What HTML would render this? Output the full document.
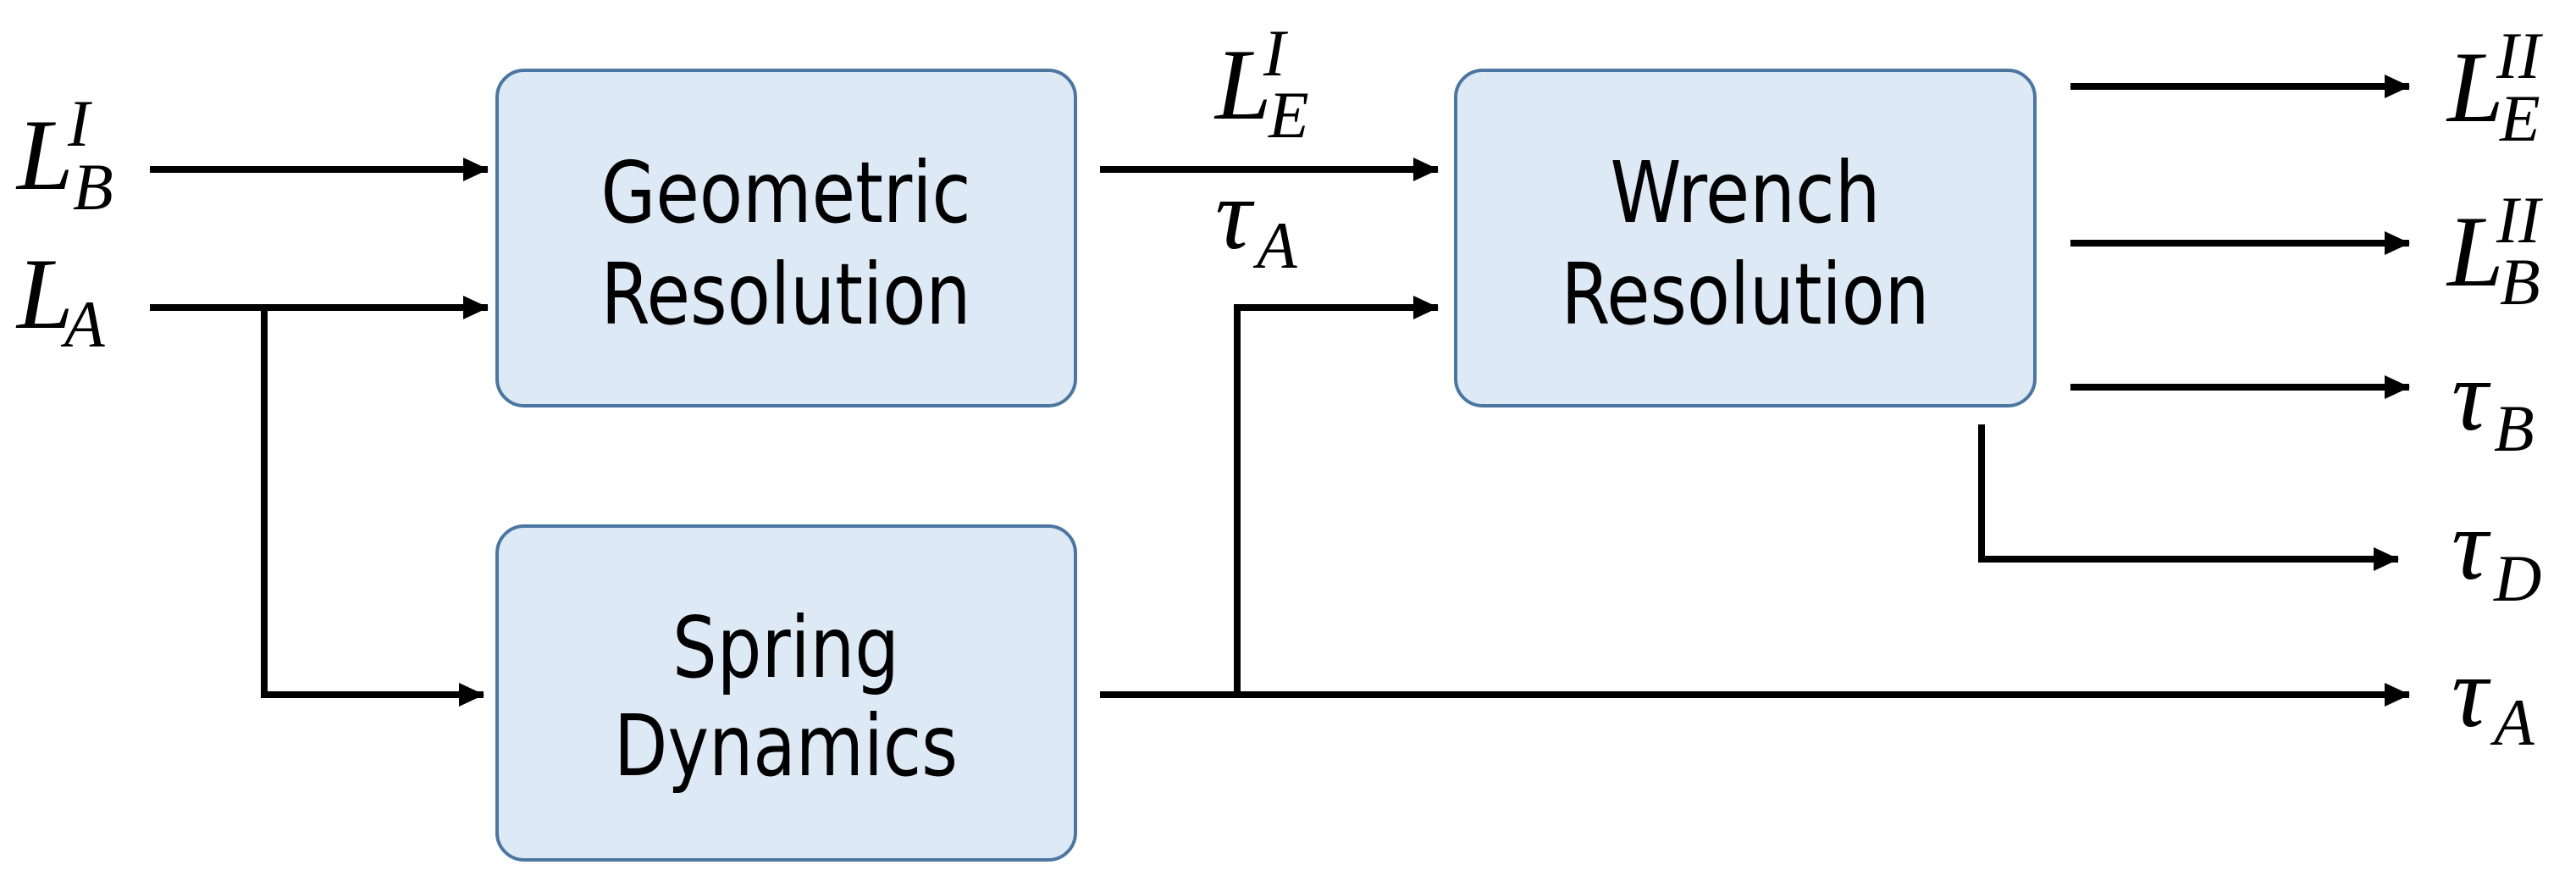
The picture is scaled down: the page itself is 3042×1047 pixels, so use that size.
<!DOCTYPE html>
<html><head><meta charset="utf-8"><style>html,body{margin:0;padding:0;background:#fff}svg{display:block}</style></head>
<body>
<svg width="3042" height="1047" viewBox="0 0 3042 1047" xmlns="http://www.w3.org/2000/svg">
<defs>
<marker id="a" markerWidth="32" markerHeight="32" refX="29" refY="14" orient="auto" markerUnits="userSpaceOnUse">
<path d="M0,0 L30,14 L0,28 Z" fill="#000"/>
</marker>
</defs>
<g fill="#dde9f5" stroke="#4a76a0" stroke-width="4">
<rect x="587" y="83" width="683" height="396" rx="32"/>
<rect x="587" y="621" width="683" height="394" rx="32"/>
<rect x="1719" y="83" width="684" height="396" rx="32"/>
</g>
<g font-family="'DejaVu Sans Condensed','DejaVu Sans',sans-serif" font-size="100" text-anchor="middle" fill="#000">
<text x="928" y="262" textLength="437" lengthAdjust="spacingAndGlyphs">Geometric</text>
<text x="928" y="382" textLength="437" lengthAdjust="spacingAndGlyphs">Resolution</text>
<text x="928" y="799" textLength="268" lengthAdjust="spacingAndGlyphs">Spring</text>
<text x="928" y="915" textLength="406" lengthAdjust="spacingAndGlyphs">Dynamics</text>
<text x="2061" y="262" textLength="319" lengthAdjust="spacingAndGlyphs">Wrench</text>
<text x="2061" y="382" textLength="435" lengthAdjust="spacingAndGlyphs">Resolution</text>
</g>
<g stroke="#000" stroke-width="8" fill="none">
<line x1="177" y1="200" x2="576" y2="200" marker-end="url(#a)"/>
<line x1="177" y1="363" x2="576" y2="363" marker-end="url(#a)"/>
<polyline points="312,363 312,820 571,820" marker-end="url(#a)"/>
<line x1="1299" y1="200" x2="1698" y2="200" marker-end="url(#a)"/>
<polyline points="1461,820 1461,363 1698,363" marker-end="url(#a)"/>
<line x1="1299" y1="820" x2="2845" y2="820" marker-end="url(#a)"/>
<line x1="2445" y1="102" x2="2845" y2="102" marker-end="url(#a)"/>
<line x1="2445" y1="287" x2="2845" y2="287" marker-end="url(#a)"/>
<line x1="2445" y1="457" x2="2845" y2="457" marker-end="url(#a)"/>
<polyline points="2340,501 2340,660 2832,660" marker-end="url(#a)"/>
</g>
<g font-family="'Liberation Serif',serif" font-style="italic" fill="#000">
<text x="20" y="223" font-size="120">L</text><text x="80" y="172" font-size="78">I</text><text x="86" y="247" font-size="78">B</text>
<text x="20" y="387" font-size="120">L</text><text x="76" y="409" font-size="78">A</text>
<text x="1435" y="140" font-size="120">L</text><text x="1492" y="89" font-size="78">I</text><text x="1498" y="162" font-size="78">E</text>
<text x="1435" y="293" font-size="120">τ</text><text x="1484" y="316" font-size="78">A</text>
<text x="2890" y="143" font-size="120">L</text><text x="2948" y="92" font-size="78">II</text><text x="2952" y="166" font-size="78">E</text>
<text x="2890" y="337" font-size="120">L</text><text x="2948" y="286" font-size="78">II</text><text x="2952" y="359" font-size="78">B</text>
<text x="2895" y="507" font-size="120">τ</text><text x="2945" y="532" font-size="78">B</text>
<text x="2895" y="683" font-size="120">τ</text><text x="2945" y="709" font-size="78">D</text>
<text x="2895" y="857" font-size="120">τ</text><text x="2945" y="879" font-size="78">A</text>
</g>
</svg>
</body></html>
